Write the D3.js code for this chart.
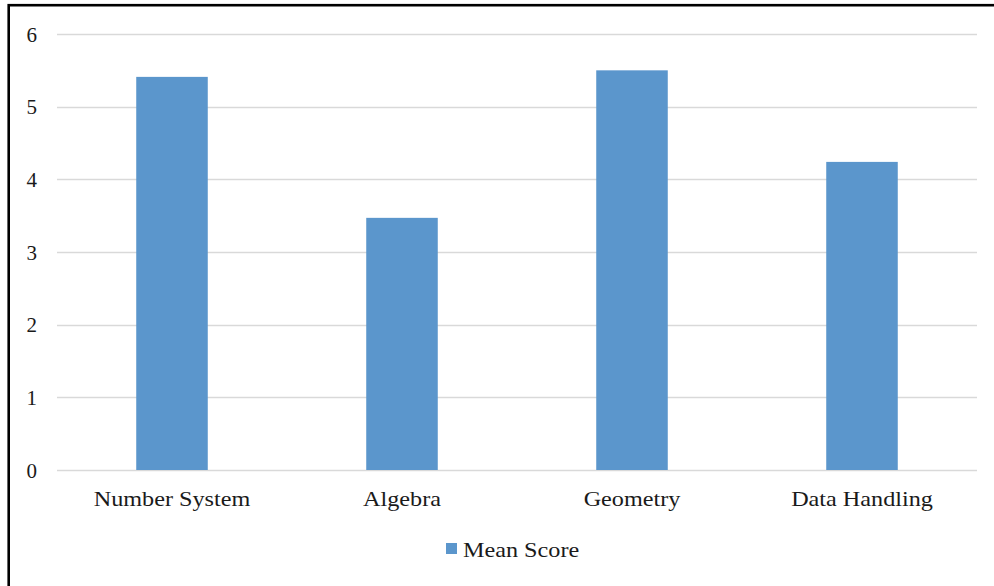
<!DOCTYPE html>
<html>
<head>
<meta charset="utf-8">
<script src="https://cdn.jsdelivr.net/npm/d3@7"></script>
<style>
  html, body { margin: 0; padding: 0; background: #fff; }
  svg { display: block; }
  text { font-family: "Liberation Serif", "Times New Roman", serif; fill: #1a1a1a; }
</style>
</head>
<body>
<script>
// Mean score per topic
const categories = ["Number System", "Algebra", "Geometry", "Data Handling"];
const meanScores = [5.41, 3.47, 5.50, 4.24];
const yTicks = [0, 1, 2, 3, 4, 5, 6];
const seriesName = "Mean Score";

const W = 994, H = 586;
const plot = { left: 57, right: 977, top: 34, bottom: 470 };
const barColor = "#5b96cc";

const svg = d3.select("body").append("svg")
  .attr("width", W).attr("height", H);

// Outer frame (runs off the right and bottom edges)
svg.append("rect")
  .attr("x", 8.7).attr("y", 5.2)
  .attr("width", W + 20).attr("height", H + 20)
  .attr("fill", "none").attr("stroke", "#000").attr("stroke-width", 2.6);

const x = d3.scaleBand()
  .domain(categories)
  .range([plot.left, plot.right])
  .paddingInner(0.689)
  .paddingOuter(0.3445);

const y = d3.scaleLinear()
  .domain([0, 6])
  .range([plot.bottom, plot.top]);

// Horizontal gridlines
svg.append("g")
  .selectAll("line")
  .data(yTicks)
  .join("line")
  .attr("x1", plot.left).attr("x2", plot.right)
  .attr("y1", d => Math.round(y(d)) + 0.5)
  .attr("y2", d => Math.round(y(d)) + 0.5)
  .attr("stroke", "#d9d9d9").attr("stroke-width", 1.3);

// Y axis labels
const yAxis = d3.axisLeft(y).tickValues(yTicks).tickSize(0).tickPadding(0).tickFormat(d3.format("d"));
const yg = svg.append("g").attr("transform", "translate(37,0)").call(yAxis);
yg.select(".domain").remove();
yg.selectAll("text")
  .attr("font-family", "Liberation Serif, serif")
  .attr("font-size", 21)
  .attr("fill", "#1a1a1a")
  .attr("text-anchor", "end")
  .attr("dy", "0.34em");

// Bars
svg.append("g")
  .selectAll("rect")
  .data(categories.map((c, i) => ({ c, v: meanScores[i] })))
  .join("rect")
  .attr("x", d => x(d.c))
  .attr("width", x.bandwidth())
  .attr("y", d => y(d.v))
  .attr("height", d => y(0) - y(d.v))
  .attr("fill", barColor);

// Category labels, slightly widened serif
const xAxis = d3.axisBottom(x).tickSize(0).tickPadding(0);
const xg = svg.append("g").attr("transform", `translate(0,${plot.bottom})`).call(xAxis);
xg.select(".domain").remove();
xg.selectAll("text")
  .attr("font-family", "Liberation Serif, serif")
  .attr("font-size", 22)
  .attr("fill", "#1a1a1a")
  .attr("dy", 0)
  .attr("y", 36)
  .attr("x", 0)
  .attr("transform", "scale(1.1,1)");

// Legend
const legend = svg.append("g").attr("transform", "translate(446,543)");
legend.append("rect")
  .attr("width", 11).attr("height", 11)
  .attr("fill", barColor);
legend.append("text")
  .attr("x", 0).attr("y", 14)
  .attr("font-size", 22)
  .attr("transform", "translate(17,0) scale(1.1,1)")
  .text(seriesName);
</script>
</body>
</html>
